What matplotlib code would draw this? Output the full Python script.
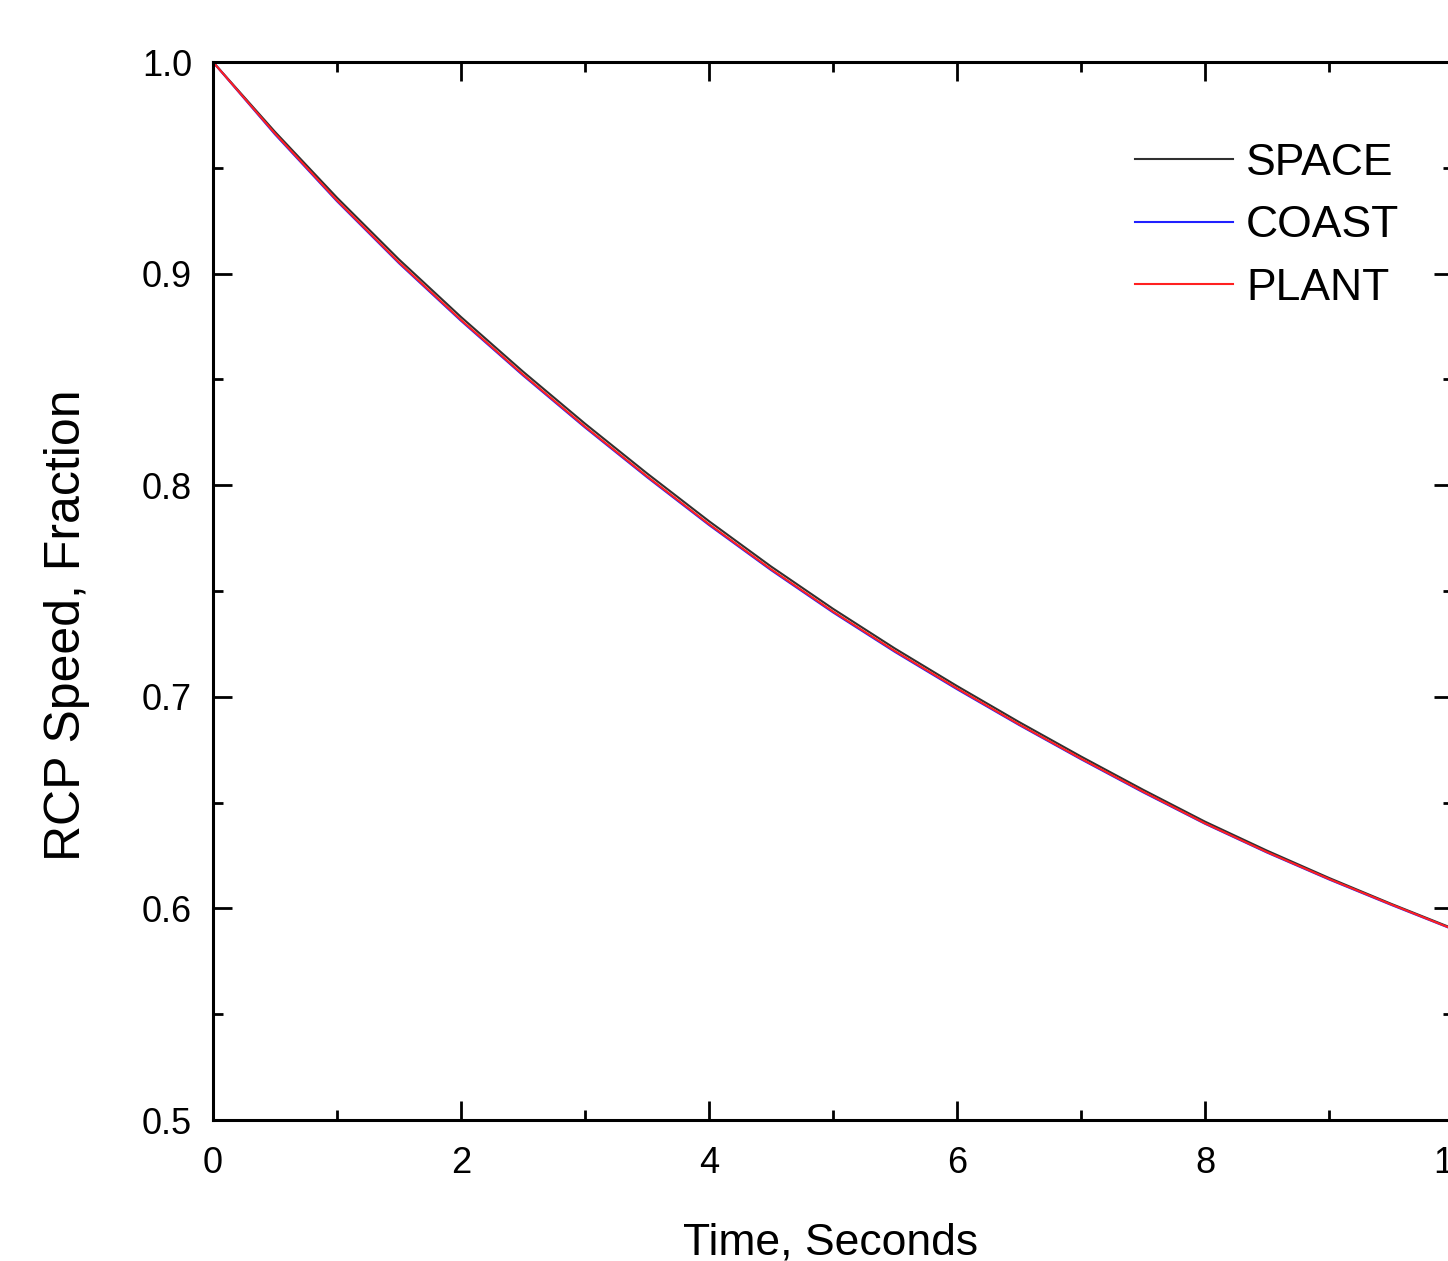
import matplotlib.pyplot as plt
from matplotlib.ticker import MultipleLocator

plt.rcParams['font.family'] = ['Liberation Sans', 'DejaVu Sans']

# %% Data
time_s = [0.0, 0.5, 1.0, 1.5, 2.0, 2.5, 3.0, 3.5, 4.0, 4.5, 5.0,
          5.5, 6.0, 6.5, 7.0, 7.5, 8.0, 8.5, 9.0, 9.5, 10.0]
space = [1.0, 0.9670, 0.9359, 0.9067, 0.8795, 0.8537, 0.8291, 0.8056, 0.7830, 0.7616, 0.7416,
         0.7228, 0.7051, 0.6881, 0.6718, 0.6561, 0.6410, 0.6273, 0.6144, 0.6022, 0.5905]
coast = [1.0, 0.9658, 0.9342, 0.9049, 0.8777, 0.8519, 0.8273, 0.8038, 0.7812, 0.7599, 0.7399,
         0.7212, 0.7036, 0.6867, 0.6705, 0.6549, 0.6400, 0.6264, 0.6137, 0.6017, 0.5901]
plant = [1.0, 0.9662, 0.9346, 0.9053, 0.8781, 0.8523, 0.8277, 0.8042, 0.7816, 0.7603, 0.7403,
         0.7216, 0.7040, 0.6870, 0.6708, 0.6552, 0.6402, 0.6266, 0.6139, 0.6019, 0.5902]

W, H = 1448, 1261
fig = plt.figure(figsize=(W / 100, H / 100), dpi=100)
# axes right edge sits just past the image edge (cropped original)
ax = fig.add_axes([213 / W, 1 - 1120 / H, 1240 / W, 1058 / H])

ax.plot(time_s, space, color='#303030', lw=1.5, label='SPACE')
ax.plot(time_s, coast, color='#2020ff', lw=1.5, label='COAST')
ax.plot(time_s, plant, color='#ff2020', lw=1.5, label='PLANT')

ax.set_xlim(0, 10)
ax.set_ylim(0.5, 1.0)
ax.xaxis.set_major_locator(MultipleLocator(2))
ax.xaxis.set_minor_locator(MultipleLocator(1))
ax.yaxis.set_major_locator(MultipleLocator(0.1))
ax.yaxis.set_minor_locator(MultipleLocator(0.05))
ax.tick_params(which='both', direction='in', top=True, right=True, width=2)
ax.tick_params(which='major', length=13.5, labelsize=26, pad=15)
ax.tick_params(axis='x', which='major', pad=19)
ax.tick_params(which='minor', length=7)
for s in ax.spines.values():
    s.set_linewidth(2.2)

fig.text(831 / W, 1 - 1254 / H, 'Time, Seconds', fontsize=32,
         ha='center', va='baseline')
fig.text(80 / W, 1 - 625 / H, 'RCP Speed, Fraction', fontsize=36,
         rotation=90, rotation_mode='anchor', ha='center', va='baseline')

ax.legend(loc='upper left', bbox_to_anchor=(1135 / W, 1 - 143 / H),
          bbox_transform=fig.transFigure, frameon=False, fontsize=32,
          borderpad=0, borderaxespad=0, handlelength=2.2,
          handletextpad=0.3, labelspacing=0.48)

fig.savefig('out.png', dpi=100)
